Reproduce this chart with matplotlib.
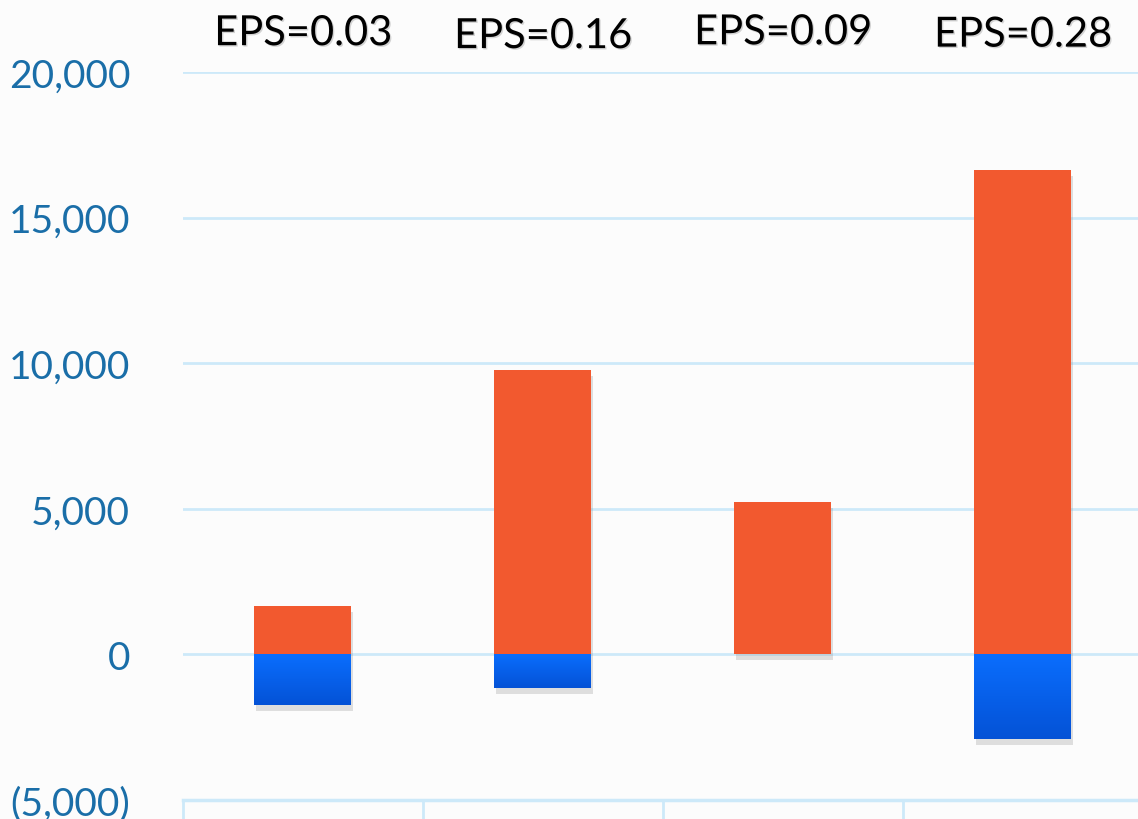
import numpy as np
import matplotlib
matplotlib.use("Agg")
import matplotlib.pyplot as plt
import matplotlib.patheffects as pe
from matplotlib.ticker import FuncFormatter

# data
quarters = ["Q1", "Q2", "Q3", "9M"]
positive = [1650, 9760, 5220, 16630]
negative = [-1750, -1170, 0, -2920]
eps = ["EPS=0.03", "EPS=0.16", "EPS=0.09", "EPS=0.28"]

plt.rcParams['font.family'] = ['Lato', 'DejaVu Sans']

fig = plt.figure(figsize=(11.38, 8.2), dpi=100, facecolor='#fcfcfc')
ax = fig.add_axes([0.1608, 0.0232, 0.8392, 0.8878])
ax.set_facecolor('#fcfcfc')

x = np.arange(len(quarters))
w = 0.404
shadow = [pe.SimplePatchShadow(offset=(1, -4), shadow_rgbFace='#999999', alpha=0.3), pe.Normal()]

ax.bar(x, positive, width=w, color='#f2592f', zorder=3, path_effects=shadow)
neg_bars = ax.bar(x, negative, width=w, color='#0a6efe', zorder=3, path_effects=shadow)

# vertical gradient for the blue part
grad = np.linspace(0, 1, 256).reshape(-1, 1)
cmap = matplotlib.colors.LinearSegmentedColormap.from_list('b', ['#0a6efe', '#0452d6'])
for b, v in zip(neg_bars, negative):
    if v == 0:
        continue
    x0 = b.get_x()
    im = ax.imshow(grad, cmap=cmap, aspect='auto', zorder=4,
                   extent=[x0, x0 + b.get_width(), v, 0], origin='upper')
    im.set_clip_path(b)

ax.set_ylim(-5000, 20000)
ax.set_xlim(-0.5, 3.48)
ax.set_yticks([-5000, 0, 5000, 10000, 15000, 20000])
ax.yaxis.set_major_formatter(FuncFormatter(
    lambda v, p: "({:,.0f})".format(-v) if v < 0 else "{:,.0f}".format(v)))
ax.grid(axis='y', color='#cde9f9', linewidth=2, zorder=0)
for s in ['left', 'right', 'top']:
    ax.spines[s].set_visible(False)
ax.spines['bottom'].set_color('#cde9f9')
ax.spines['bottom'].set_linewidth(2.5)

ax.tick_params(axis='y', length=0, pad=38, labelsize=28, labelcolor='#1a6ea8')
ax.tick_params(axis='x', length=0, pad=12, labelsize=28, labelcolor='#1a6ea8')
ax.set_xticks(x)
ax.set_xticklabels(quarters)

# table-like separators below the axis
for xs in [-0.5, 0.5, 1.5, 2.5]:
    ax.plot([xs, xs], [-5000, -6000], color='#cde9f9', lw=2, clip_on=False)

eps_y = [20680, 20580, 20710, 20630]
for xi, t, yy in zip(x, eps, eps_y):
    ax.text(xi, yy, t, ha='center', va='bottom', fontsize=30, color='black',
            path_effects=[pe.withSimplePatchShadow(offset=(1, -1), shadow_rgbFace='#888888', alpha=0.35)])

fig.savefig('out.png', dpi=100, facecolor=fig.get_facecolor())
